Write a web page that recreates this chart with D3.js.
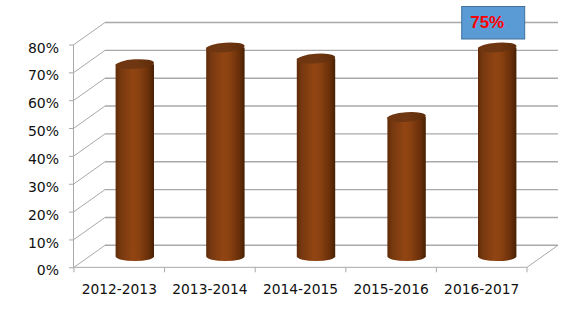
<!DOCTYPE html>
<html><head><meta charset="utf-8">
<script src="https://cdn.jsdelivr.net/npm/d3@7"></script>
<style>
html,body{margin:0;padding:0;background:#fff;}
svg{display:block;font-family:"DejaVu Sans",sans-serif;}
</style></head>
<body>
<svg id="chart" width="574" height="316"></svg>
<script>
const categories = ["2012-2013","2013-2014","2014-2015","2015-2016","2016-2017"];
const values = [0.69, 0.75, 0.71, 0.50, 0.75];
const yTicks = [0,0.1,0.2,0.3,0.4,0.5,0.6,0.7,0.8];
const calloutIndex = 4;
const calloutText = "75%";

const svg = d3.select("#chart");
const W = 574, H = 316;
const x0 = 74, x1 = 527, yBottom = 267.3, yTop = 44.5;
const depthX = 31, depthY = -22;

const x = d3.scaleBand().domain(categories).range([x0, x1]).padding(0);
const y = d3.scaleLinear().domain([0, 0.8]).range([yBottom, yTop]);

const defs = svg.append("defs");
const grad = defs.append("linearGradient").attr("id","cyl").attr("x1","0").attr("x2","1").attr("y1","0").attr("y2","0");
[[0,"#5e2b07"],[0.12,"#763810"],[0.45,"#924512"],[0.6,"#8a4111"],[0.85,"#6a300a"],[1,"#482003"]]
  .forEach(([o,c])=>grad.append("stop").attr("offset",o).attr("stop-color",c));
const gradTop = defs.append("linearGradient").attr("id","cyltop").attr("x1","0").attr("x2","1").attr("y1","0").attr("y2","0");
[[0,"#6e3510"],[0.5,"#703812"],[1,"#5e2c0a"]]
  .forEach(([o,c])=>gradTop.append("stop").attr("offset",o).attr("stop-color",c));

const gridColor = "#a9a9a9";
const g = svg.append("g");

// back wall gridlines and side-wall diagonals
yTicks.forEach(t=>{
  const yy = y(t);
  g.append("line").attr("x1",x0+depthX).attr("x2",x1+depthX).attr("y1",yy+depthY).attr("y2",yy+depthY)
    .attr("stroke",gridColor).attr("stroke-width",1.4);
  g.append("line").attr("x1",x0).attr("y1",yy).attr("x2",x0+depthX).attr("y2",yy+depthY)
    .attr("stroke",gridColor).attr("stroke-width",1);
});
// floor right diagonal
g.append("line").attr("x1",x1).attr("y1",yBottom).attr("x2",x1+depthX).attr("y2",yBottom+depthY)
  .attr("stroke",gridColor).attr("stroke-width",1);

// y axis
const yAxis = d3.axisLeft(y).tickValues(yTicks).tickFormat(d3.format(".0%")).tickSize(5).tickPadding(10);
const ya = svg.append("g").attr("transform",`translate(${x0},0)`).call(yAxis);
ya.select(".domain").attr("stroke",gridColor).attr("d",`M-0.5,${yBottom}V${yTop}`);
ya.selectAll(".tick line").attr("stroke",gridColor);
ya.selectAll(".tick text").attr("font-size","14px").attr("font-family","DejaVu Sans").attr("fill","#111").attr("dy","0.54em");

// x axis
const xAxis = d3.axisBottom(x).tickSize(0).tickPadding(16.5);
const xa = svg.append("g").attr("transform",`translate(0,${yBottom})`).call(xAxis);
xa.select(".domain").attr("stroke",gridColor).attr("d",`M${x0},0H${x1}`);
xa.selectAll(".tick text").attr("font-size","13.8px").attr("font-family","DejaVu Sans").attr("fill","#111");
// category boundary ticks
const bounds = categories.map(c=>x(c)).concat([x1]);
xa.selectAll(".btick").data(bounds).join("line").attr("class","btick")
  .attr("x1",d=>d).attr("x2",d=>d).attr("y1",0).attr("y2",5).attr("stroke",gridColor);

// cylinders
const rx = 19.2, ry = 4.8;
const bars = svg.append("g");
categories.forEach((c,i)=>{
  const cx = x(c) + x.bandwidth()/2 + depthX/2;
  const baseY = y(0) + depthY/2;
  const topY = y(values[i]) + depthY/2;
  const p = d3.path();
  p.moveTo(cx-rx, topY);
  p.lineTo(cx-rx, baseY);
  bars.append("path")
    .attr("d",`M${cx-rx},${topY}L${cx-rx},${baseY}A${rx},${ry} 0 0 0 ${cx+rx},${baseY}L${cx+rx},${topY}Z`)
    .attr("fill","url(#cyl)");
  bars.append("ellipse").attr("cx",cx).attr("cy",topY).attr("rx",rx).attr("ry",ry)
    .attr("transform",`rotate(-4,${cx},${topY})`)
    .attr("fill","url(#cyltop)");
});

// callout
const cc = categories[calloutIndex];
const ccx = x(cc) + x.bandwidth()/2 + depthX/2;
const bw = 63, bh = 32.5;
const bx = ccx - 36, by = 6;
svg.append("rect").attr("x",bx+0.5).attr("y",by+0.5).attr("width",bw).attr("height",bh)
  .attr("fill","#5b9bd5").attr("stroke","#41719c").attr("stroke-width",1);
svg.append("text").attr("x",bx+9).attr("y",by+21.5).text(calloutText)
  .attr("font-family","Liberation Sans, Arial, sans-serif").attr("font-weight","bold")
  .attr("font-size","17px").attr("fill","#ff0000");
</script>
</body></html>
